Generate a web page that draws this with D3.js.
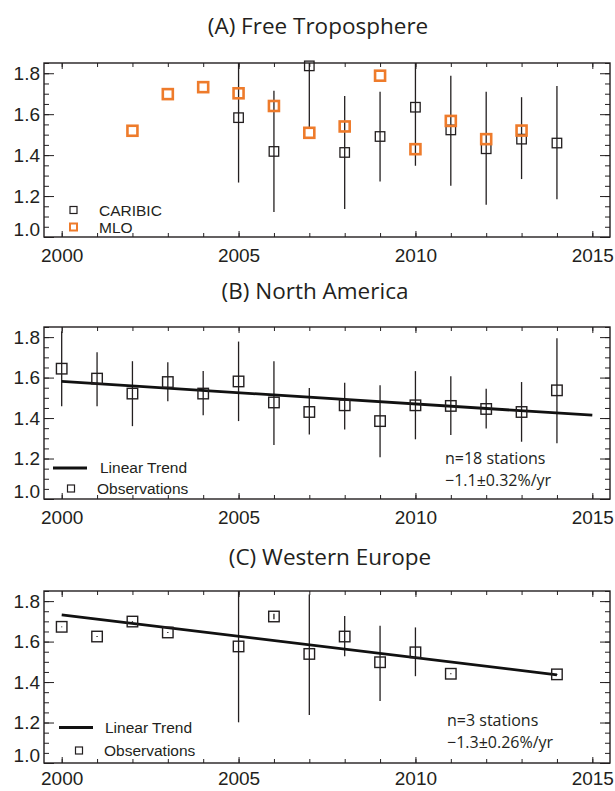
<!DOCTYPE html>
<html>
<head>
<meta charset="utf-8">
<script src="https://cdn.jsdelivr.net/npm/d3@7"></script>
<style>
  body { margin: 0; background: #fff; }
  .tick text { font-family: "Liberation Sans", Arial, sans-serif; font-size: 19px; fill: #231f20; }
  .domain { display: none; }
  .tick line { stroke: #231f20; stroke-width: 1; }
</style>
</head>
<body>
<svg class="target"></svg>
<script>
// ---- data ----
const yTickVals = [1.0, 1.2, 1.4, 1.6, 1.8];
const xTickVals = [2000, 2005, 2010, 2015];

// (A) Free Troposphere
const caribicYears = [2005, 2006, 2007, 2008, 2009, 2010, 2011, 2012, 2013, 2014];
const caribicVal = [1.583, 1.418, 1.836, 1.413, 1.491, 1.634, 1.523, 1.431, 1.478, 1.459];
const caribicLo  = [1.266, 1.122, 1.530, 1.137, 1.271, 1.348, 1.250, 1.158, 1.283, 1.185];
const caribicHi  = [1.900, 1.715, 2.140, 1.689, 1.710, 1.920, 1.788, 1.710, 1.683, 1.738];
const mloYears = [2002, 2003, 2004, 2005, 2006, 2007, 2008, 2009, 2010, 2011, 2012, 2013];
const mloVal = [1.519, 1.698, 1.732, 1.702, 1.640, 1.509, 1.540, 1.788, 1.429, 1.567, 1.478, 1.520];

// (B) North America
const naYears = [2000, 2001, 2002, 2003, 2004, 2005, 2006, 2007, 2008, 2009, 2010, 2011, 2012, 2013, 2014];
const naVal = [1.644, 1.595, 1.521, 1.578, 1.521, 1.581, 1.477, 1.430, 1.463, 1.385, 1.463, 1.460, 1.445, 1.430, 1.537];
const naLo  = [1.458, 1.458, 1.360, 1.483, 1.414, 1.385, 1.267, 1.319, 1.344, 1.206, 1.295, 1.316, 1.349, 1.283, 1.275];
const naHi  = [1.829, 1.725, 1.681, 1.676, 1.632, 1.778, 1.681, 1.548, 1.575, 1.562, 1.632, 1.606, 1.545, 1.578, 1.794];
const naTrendYears = [2000, 2015];
const naTrendVal = [1.581, 1.414];

// (C) Western Europe
const weYears = [2000, 2001, 2002, 2003, 2005, 2006, 2007, 2008, 2009, 2010, 2011, 2014];
const weVal = [1.673, 1.625, 1.699, 1.645, 1.576, 1.724, 1.539, 1.625, 1.498, 1.547, 1.441, 1.438];
const weLo  = [1.671, 1.623, 1.697, 1.643, 1.201, 1.710, 1.237, 1.527, 1.307, 1.429, 1.439, 1.436];
const weHi  = [1.675, 1.627, 1.701, 1.647, 1.950, 1.738, 1.833, 1.727, 1.678, 1.670, 1.443, 1.440];
const weTrendYears = [2000, 2014];
const weTrendVal = [1.732, 1.436];

const ORANGE = "#ee7b2b";
const INK = "#231f20";

document.addEventListener("DOMContentLoaded", function() {
    drawChart();
});

function drawChart() {
    const width = 615;
    const height = 791;
    const svg = d3.select(".target")
        .attr("viewBox", [0, 0, width, height])
        .attr("width", width)
        .attr("height", height);

    const panels = [
        {id: "a", title: "(A) Free Troposphere", tx: 318, ty: 34, top: 63, bottom: 237, pad: 12},
        {id: "b", title: "(B) North America", tx: 315, ty: 299, top: 327, bottom: 499, pad: 12},
        {id: "c", title: "(C) Western Europe", tx: 330, ty: 565, top: 591, bottom: 763, pad: 9}
    ];

    const x = d3.scaleLinear().domain([1999.5, 2015.5]).range([44, 610]);

    panels.forEach(function(p) {
        p.y = d3.scaleLinear().domain([1.0, 1.85]).range([p.bottom, p.top]);
        const g = svg.append("g");
        p.g = g;

        g.append("text")
            .attr("x", p.tx).attr("y", p.ty)
            .attr("text-anchor", "middle")
            .style("font-family", "'Open Sans', sans-serif")
            .style("font-size", "22.5px")
            .style("fill", INK)
            .text(p.title);

        g.append("clipPath").attr("id", "clip-" + p.id)
            .append("rect")
            .attr("x", x.range()[0]).attr("y", p.top)
            .attr("width", x.range()[1] - x.range()[0])
            .attr("height", p.bottom - p.top);

        // axes, ticks pointing inward
        const yl = g.append("g").attr("transform", "translate(" + x.range()[0] + ",0)")
            .call(d3.axisLeft(p.y).tickValues(yTickVals).tickSize(-10).tickPadding(4)
                .tickFormat(d3.format(".1f")));
        yl.selectAll(".tick text").filter(d => d === 1.0).attr("y", -8);
        g.append("g").attr("transform", "translate(" + x.range()[0] + ",0)")
            .call(d3.axisLeft(p.y).tickValues(d3.range(1.0, 1.86, 0.05)).tickSize(-5).tickFormat(""));
        g.append("g").attr("transform", "translate(" + x.range()[1] + ",0)")
            .call(d3.axisRight(p.y).tickValues(yTickVals).tickSize(-10).tickFormat(""));
        g.append("g").attr("transform", "translate(" + x.range()[1] + ",0)")
            .call(d3.axisRight(p.y).tickValues(d3.range(1.0, 1.86, 0.05)).tickSize(-5).tickFormat(""));

        g.append("g").attr("transform", "translate(0," + p.bottom + ")")
            .call(d3.axisBottom(x).tickValues(xTickVals).tickSize(-6).tickPadding(p.pad)
                .tickFormat(d3.format("d")));
        g.append("g").attr("transform", "translate(0," + p.bottom + ")")
            .call(d3.axisBottom(x).tickValues(d3.range(2000, 2016, 1)).tickSize(-4).tickFormat(""));
        g.append("g").attr("transform", "translate(0," + p.top + ")")
            .call(d3.axisTop(x).tickValues(xTickVals).tickSize(-6).tickFormat(""));
        g.append("g").attr("transform", "translate(0," + p.top + ")")
            .call(d3.axisTop(x).tickValues(d3.range(2000, 2016, 1)).tickSize(-4).tickFormat(""));

        g.append("rect")
            .attr("x", x.range()[0]).attr("y", p.top)
            .attr("width", x.range()[1] - x.range()[0])
            .attr("height", p.bottom - p.top)
            .attr("fill", "none")
            .attr("stroke", INK)
            .attr("stroke-width", 1.4);
    });

    function errorBars(p, years, lo, hi) {
        p.g.append("g").attr("clip-path", "url(#clip-" + p.id + ")")
            .selectAll("line")
            .data(years)
            .enter()
            .append("line")
            .attr("x1", d => x(d)).attr("x2", d => x(d))
            .attr("y1", (d, i) => p.y(lo[i]))
            .attr("y2", (d, i) => p.y(hi[i]))
            .attr("stroke", INK)
            .attr("stroke-width", 1.3);
    }

    function squares(p, years, vals, size, color, sw) {
        p.g.append("g")
            .selectAll("rect")
            .data(years)
            .enter()
            .append("rect")
            .attr("x", d => x(d) - size / 2)
            .attr("y", (d, i) => p.y(vals[i]) - size / 2)
            .attr("width", size).attr("height", size)
            .attr("fill", "none")
            .attr("stroke", color)
            .attr("stroke-width", sw);
    }

    function trend(p, years, vals) {
        p.g.append("path")
            .datum(years)
            .attr("fill", "none")
            .attr("stroke", "#111")
            .attr("stroke-width", 2.8)
            .attr("d", d3.line().x(d => x(d)).y((d, i) => p.y(vals[i])));
    }

    function legendText(g, tx, ty, label) {
        g.append("text")
            .attr("x", tx).attr("y", ty).attr("dy", "0.36em")
            .style("font-family", "'Liberation Sans', Arial, sans-serif")
            .style("font-size", "15.5px")
            .style("fill", INK)
            .text(label);
    }

    function note(g, tx, ty, lines) {
        lines.forEach(function(t, i) {
            g.append("text")
                .attr("x", tx).attr("y", ty + i * 22)
                .style("font-family", "'Open Sans', sans-serif")
                .style("font-size", "16px")
                .style("fill", INK)
                .text(t);
        });
    }

    // (A)
    const A = panels[0];
    errorBars(A, caribicYears, caribicLo, caribicHi);
    squares(A, caribicYears, caribicVal, 9.5, INK, 1.3);
    squares(A, mloYears, mloVal, 10, ORANGE, 2.6);
    A.g.append("rect").attr("x", 70).attr("y", 206.5).attr("width", 7).attr("height", 7)
        .attr("fill", "none").attr("stroke", INK).attr("stroke-width", 1.2);
    A.g.append("rect").attr("x", 70).attr("y", 223.5).attr("width", 7).attr("height", 7)
        .attr("fill", "none").attr("stroke", ORANGE).attr("stroke-width", 2);
    legendText(A.g, 99, 210, "CARIBIC");
    legendText(A.g, 99, 227, "MLO");

    // (B)
    const B = panels[1];
    errorBars(B, naYears, naLo, naHi);
    trend(B, naTrendYears, naTrendVal);
    squares(B, naYears, naVal, 10.5, INK, 1.4);
    B.g.append("line").attr("x1", 53).attr("x2", 87).attr("y1", 468).attr("y2", 468)
        .attr("stroke", "#111").attr("stroke-width", 3);
    B.g.append("rect").attr("x", 67.5).attr("y", 485).attr("width", 7).attr("height", 7)
        .attr("fill", "none").attr("stroke", INK).attr("stroke-width", 1.2);
    legendText(B.g, 100, 467, "Linear Trend");
    legendText(B.g, 97, 488, "Observations");
    note(B.g, 445, 464, ["n=18 stations", "\u22121.1\u00b10.32%/yr"]);

    // (C)
    const C = panels[2];
    errorBars(C, weYears, weLo, weHi);
    trend(C, weTrendYears, weTrendVal);
    squares(C, weYears, weVal, 10.5, INK, 1.4);
    C.g.append("line").attr("x1", 59).attr("x2", 93).attr("y1", 727.5).attr("y2", 727.5)
        .attr("stroke", "#111").attr("stroke-width", 3);
    C.g.append("rect").attr("x", 75.5).attr("y", 747).attr("width", 7).attr("height", 7)
        .attr("fill", "none").attr("stroke", INK).attr("stroke-width", 1.2);
    legendText(C.g, 105, 727, "Linear Trend");
    legendText(C.g, 104, 750, "Observations");
    note(C.g, 447, 726, ["n=3 stations", "\u22121.3\u00b10.26%/yr"]);
}
</script>
</body>
</html>
